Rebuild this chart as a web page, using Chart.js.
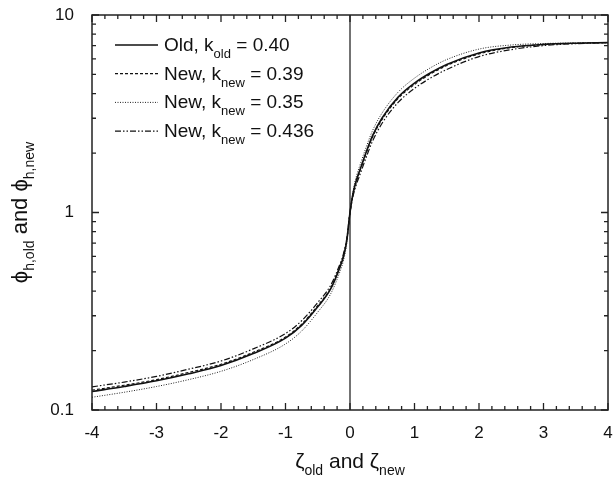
<!DOCTYPE html>
<html>
<head>
<meta charset="utf-8">
<script src="https://cdn.jsdelivr.net/npm/chart.js@4.4.1/dist/chart.umd.min.js"></script>
<style>
    html, body {margin: 0; padding: 0; background: #fff;}
    #wrap {width: 613px; height: 482px;}
</style>
</head>
<body>
<div id="wrap"><canvas id="phiChart" width="613" height="482"></canvas></div>
<script>
// zeta values (x axis)
var zeta = [-4, -3.5, -3, -2.5, -2, -1.5, -1, -0.75, -0.5, -0.3, -0.15, -0.1, -0.05, 0,
    0.05, 0.1, 0.15, 0.25, 0.35, 0.5, 0.75, 1, 1.25, 1.5, 2, 2.5, 3, 3.5, 4];
// phi_h curves
var phiOld040 = [0.124, 0.1315, 0.1405, 0.1525, 0.168, 0.193, 0.231, 0.268, 0.333, 0.410, 0.535, 0.600, 0.720, 1.00,
    1.26, 1.46, 1.63, 2.02, 2.45, 3.02, 3.85, 4.52, 5.10, 5.62, 6.42, 6.88, 7.10, 7.20, 7.25];
var phiNew039 = [0.126, 0.1335, 0.1425, 0.155, 0.1705, 0.196, 0.234, 0.272, 0.338, 0.414, 0.540, 0.605, 0.724, 1.00,
    1.25, 1.44, 1.61, 1.99, 2.41, 2.97, 3.79, 4.45, 5.03, 5.55, 6.35, 6.84, 7.08, 7.19, 7.25];
var phiNew035 = [0.116, 0.123, 0.1315, 0.1425, 0.157, 0.180, 0.216, 0.251, 0.313, 0.387, 0.508, 0.573, 0.700, 1.00,
    1.30, 1.53, 1.72, 2.14, 2.60, 3.20, 4.08, 4.79, 5.41, 5.95, 6.72, 7.05, 7.17, 7.22, 7.25];
var phiNew0436 = [0.131, 0.1385, 0.148, 0.161, 0.177, 0.204, 0.244, 0.283, 0.350, 0.428, 0.555, 0.620, 0.740, 1.00,
    1.22, 1.39, 1.54, 1.90, 2.30, 2.84, 3.62, 4.25, 4.80, 5.30, 6.16, 6.68, 7.00, 7.16, 7.24];

// legend text: main, subscript, tail
var legendMain = ['Old, k', 'New, k', 'New, k', 'New, k'];
var legendSub = ['old', 'new', 'new', 'new'];
var legendTail = [' = 0.40', ' = 0.39', ' = 0.35', ' = 0.436'];

var xTickLabels = ['-4', '-3', '-2', '-1', '0', '1', '2', '3', '4'];
var yTickLabels = ['0.1', '1', '10'];

var FONT = '"Liberation Sans", Arial, sans-serif';

function pts(ys) {
    return zeta.map(function (z, i) { return {x: z, y: ys[i]}; });
}

// draw a run of text pieces, some of them subscripts
function drawParts(ctx, parts, x, y, size, subSize, subDrop, align) {
    var total = 0;
    parts.forEach(function (p) {
        ctx.font = (p.sub ? subSize : size) + 'px ' + FONT;
        p.w = ctx.measureText(p.t).width;
        total += p.w;
    });
    var cx = align === 'center' ? x - total / 2 : x;
    parts.forEach(function (p) {
        ctx.font = (p.sub ? subSize : size) + 'px ' + FONT;
        ctx.fillText(p.t, cx, p.sub ? y + subDrop : y);
        cx += p.w;
    });
}

// box, inward ticks, titles and legend
var decorations = {
    id: 'decorations',
    afterDraw: function (chart) {
        var ctx = chart.ctx, a = chart.chartArea;
        var xs = chart.scales.x, ys = chart.scales.y;
        ctx.save();
        ctx.setLineDash([]);
        ctx.strokeStyle = '#222';
        ctx.lineWidth = 1.5;
        ctx.strokeRect(a.left, a.top, a.right - a.left, a.bottom - a.top);

        ctx.lineWidth = 1.3;
        ctx.beginPath();
        for (var i = 0; i <= 40; i++) {
            var px = xs.getPixelForValue(-4 + i * 0.2);
            var len = i % 5 === 0 ? 7 : 4;
            ctx.moveTo(px, a.bottom);
            ctx.lineTo(px, a.bottom - len);
            ctx.moveTo(px, a.top);
            ctx.lineTo(px, a.top + len);
        }
        for (var e = -1; e <= 0; e++) {
            for (var m = 1; m <= 10; m++) {
                var py = ys.getPixelForValue(m * Math.pow(10, e));
                var l = (m === 1 || m === 10) ? 7 : 4;
                ctx.moveTo(a.left, py);
                ctx.lineTo(a.left + l, py);
                ctx.moveTo(a.right, py);
                ctx.lineTo(a.right - l, py);
            }
        }
        ctx.stroke();

        ctx.fillStyle = '#111';
        ctx.textBaseline = 'alphabetic';
        ctx.textAlign = 'left';

        // x title
        drawParts(ctx, [{t: '\u03B6'}, {t: 'old', sub: true}, {t: ' and \u03B6'}, {t: 'new', sub: true}],
            (a.left + a.right) / 2, 468, 21, 14, 7, 'center');

        // y title
        ctx.save();
        ctx.translate(27, (a.top + a.bottom) / 2);
        ctx.rotate(-Math.PI / 2);
        drawParts(ctx, [{t: '\u03D5'}, {t: 'h,old', sub: true}, {t: ' and \u03D5'}, {t: 'h,new', sub: true}],
            0, 0, 22, 14, 7, 'center');
        ctx.restore();

        // legend
        var sets = chart.data.datasets;
        for (var k = 0; k < 4; k++) {
            var base = 51 + k * 28.7;
            ctx.save();
            ctx.strokeStyle = sets[k].borderColor;
            ctx.lineWidth = sets[k].borderWidth;
            ctx.setLineDash(sets[k].borderDash || []);
            ctx.beginPath();
            ctx.moveTo(115, base - 6);
            ctx.lineTo(158, base - 6);
            ctx.stroke();
            ctx.restore();
            drawParts(ctx, [{t: legendMain[k]}, {t: legendSub[k], sub: true}, {t: legendTail[k]}],
                164, base, 19, 13, 7, 'left');
        }
        ctx.restore();
    }
};

new Chart(document.getElementById('phiChart').getContext('2d'), {
    type: 'line',
    data: {
        datasets: [{
            label: 'Old', data: pts(phiOld040),
            borderColor: '#111', borderWidth: 1.6, borderDash: []
        }, {
            label: 'New 0.39', data: pts(phiNew039),
            borderColor: '#111', borderWidth: 1.2, borderDash: [3, 2]
        }, {
            label: 'New 0.35', data: pts(phiNew035),
            borderColor: '#222', borderWidth: 1, borderDash: [1, 1.5]
        }, {
            label: 'New 0.436', data: pts(phiNew0436),
            borderColor: '#111', borderWidth: 1.2, borderDash: [6, 2, 1.5, 2, 1.5, 2]
        }, {
            label: 'zero', data: [{x: 0, y: 0.1}, {x: 0, y: 10}],
            borderColor: '#444', borderWidth: 1.5
        }]
    },
    options: {
        responsive: false,
        animation: false,
        layout: {padding: {top: 15, right: 5, left: 0, bottom: 0}},
        elements: {
            point: {radius: 0},
            line: {cubicInterpolationMode: 'monotone', fill: false}
        },
        scales: {
            x: {
                type: 'linear', min: -4, max: 4,
                grid: {display: false},
                border: {display: false},
                afterFit: function (s) {
                    s.height = 72;
                    s.paddingLeft = 0;
                    s.paddingRight = 0;
                },
                ticks: {
                    stepSize: 1, padding: 5, color: '#111',
                    font: {family: FONT, size: 17},
                    callback: function (v) {
                        var idx = Math.round(v) + 4;
                        return Math.abs(v - Math.round(v)) < 1e-9 ? xTickLabels[idx] : '';
                    }
                }
            },
            y: {
                type: 'logarithmic', min: 0.1, max: 10,
                grid: {display: false},
                border: {display: false},
                afterFit: function (s) {
                    s.width = 92;
                    s.paddingTop = 0;
                    s.paddingBottom = 0;
                },
                ticks: {
                    autoSkip: false, padding: 10, color: '#111',
                    font: {family: FONT, size: 17},
                    callback: function (v) {
                        var e = Math.log10(v);
                        return Math.abs(e - Math.round(e)) < 1e-9 ? yTickLabels[Math.round(e) + 1] : '';
                    }
                }
            }
        },
        plugins: {
            legend: {display: false},
            tooltip: {enabled: false}
        }
    },
    plugins: [decorations]
});
</script>
</body>
</html>
